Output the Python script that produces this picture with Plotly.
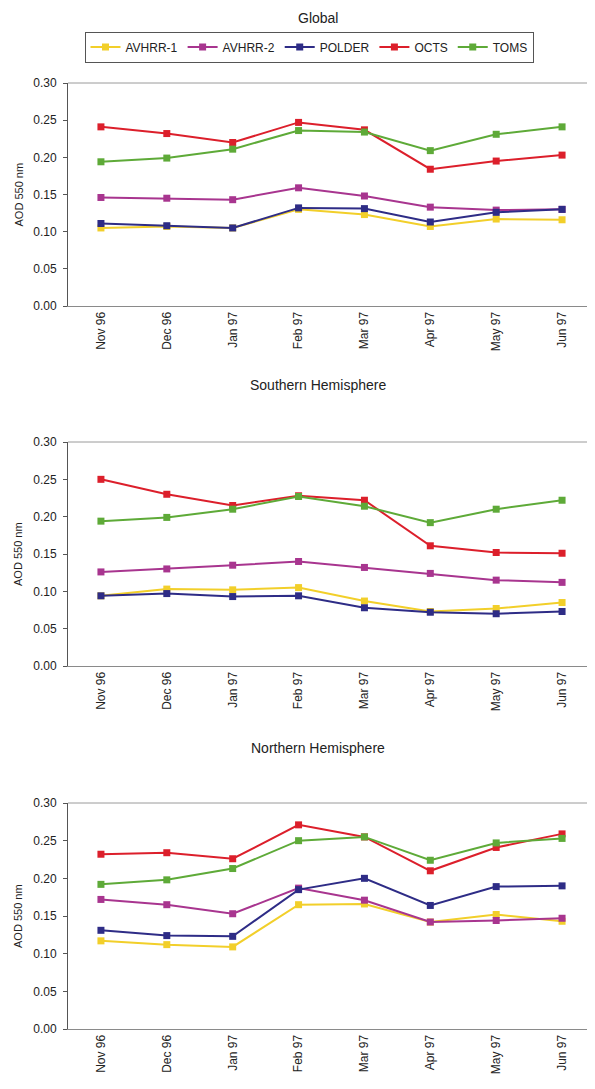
import plotly.graph_objects as go

months = ["Nov 96", "Dec 96", "Jan 97", "Feb 97", "Mar 97", "Apr 97", "May 97", "Jun 97"]
series_names = ["AVHRR-1", "AVHRR-2", "POLDER", "OCTS", "TOMS"]
colors = ["#F2CF2A", "#A8358F", "#2E2C86", "#DC1F2B", "#5EAA38"]

global_avhrr1 = [0.105, 0.107, 0.105, 0.130, 0.123, 0.107, 0.117, 0.116]
global_avhrr2 = [0.146, 0.145, 0.143, 0.159, 0.148, 0.133, 0.129, 0.130]
global_polder = [0.111, 0.108, 0.105, 0.132, 0.131, 0.113, 0.126, 0.130]
global_octs = [0.241, 0.232, 0.220, 0.247, 0.237, 0.184, 0.195, 0.203]
global_toms = [0.194, 0.199, 0.211, 0.236, 0.234, 0.209, 0.231, 0.241]

south_avhrr1 = [0.094, 0.103, 0.102, 0.105, 0.087, 0.073, 0.077, 0.085]
south_avhrr2 = [0.126, 0.130, 0.135, 0.140, 0.132, 0.124, 0.115, 0.112]
south_polder = [0.094, 0.097, 0.093, 0.094, 0.078, 0.072, 0.070, 0.073]
south_octs = [0.250, 0.230, 0.215, 0.228, 0.222, 0.161, 0.152, 0.151]
south_toms = [0.194, 0.199, 0.210, 0.227, 0.214, 0.192, 0.210, 0.222]

north_avhrr1 = [0.117, 0.112, 0.109, 0.165, 0.166, 0.142, 0.152, 0.143]
north_avhrr2 = [0.172, 0.165, 0.153, 0.187, 0.171, 0.142, 0.144, 0.147]
north_polder = [0.131, 0.124, 0.123, 0.185, 0.200, 0.164, 0.189, 0.190]
north_octs = [0.232, 0.234, 0.226, 0.271, 0.255, 0.210, 0.241, 0.259]
north_toms = [0.192, 0.198, 0.213, 0.250, 0.255, 0.224, 0.247, 0.253]

panels = [
    ("Global", [global_avhrr1, global_avhrr2, global_polder, global_octs, global_toms]),
    ("Southern Hemisphere", [south_avhrr1, south_avhrr2, south_polder, south_octs, south_toms]),
    ("Northern Hemisphere", [north_avhrr1, north_avhrr2, north_polder, north_octs, north_toms]),
]

y_ticks = [0.0, 0.05, 0.10, 0.15, 0.20, 0.25, 0.30]

# page has an 8px body margin, so the figure is offset by 8px
OFF = 8
W, H = 595 - OFF, 1089 - OFF
# page-pixel top/bottom of each plot area
pix = [(83, 306), (442, 666), (803, 1029)]
title_pix = [18, 385, 748]
x_left = 68


def px_x(p):
    return (p - OFF) / W


def px_y(p):
    return 1 - (p - OFF) / H


fig = go.Figure()
font_family = "Liberation Sans, Arial, sans-serif"

layout = dict(
    width=W, height=H,
    margin=dict(l=0, r=0, t=0, b=0),
    paper_bgcolor="white", plot_bgcolor="white",
    font=dict(family=font_family, color="#222222", size=11),
    showlegend=True,
    legend=dict(
        orientation="h", x=px_x(309), xanchor="center", y=px_y(47), yanchor="middle",
        bordercolor="#555555", borderwidth=1, bgcolor="white",
        font=dict(size=12, color="#222222"), itemwidth=30,
        tracegroupgap=0,
    ),
)
annotations = []
shapes = []

for i, (title, data) in enumerate(panels):
    n = i + 1
    xa = "x" if n == 1 else f"x{n}"
    ya = "y" if n == 1 else f"y{n}"
    top, bot = pix[i]
    dom = [px_y(bot), px_y(top)]
    for k, vals in enumerate(data):
        fig.add_trace(go.Scatter(
            x=months, y=vals, mode="lines+markers", name=series_names[k],
            line=dict(color=colors[k], width=2),
            marker=dict(symbol="square", size=7, color=colors[k]),
            xaxis=xa, yaxis=ya, showlegend=(i == 0),
        ))
    layout[f"xaxis{'' if n == 1 else n}"] = dict(
        domain=[px_x(x_left), 1], anchor=ya, type="category",
        categoryorder="array", categoryarray=months,
        range=[-0.5, 7.5], showline=True, linecolor="#8a8a8a", linewidth=1,
        ticks="", tickangle=-90, showgrid=False, zeroline=False,
        tickfont=dict(size=12, color="#222222"), automargin=False,
    )
    layout[f"yaxis{'' if n == 1 else n}"] = dict(
        domain=dom, anchor=xa, range=[0, 0.30], tickvals=y_ticks,
        tickformat=".2f", showline=True, linecolor="#555555", linewidth=1,
        ticks="outside", ticklen=4, tickcolor="#555555", showgrid=False,
        zeroline=False, tickfont=dict(size=12, color="#222222"), automargin=False,
        ticklabelstandoff=4,
    )
    shapes.append(dict(type="line", xref=f"{xa} domain", yref=f"{ya} domain",
                       x0=0, x1=1, y0=1, y1=1, line=dict(color="#9a9a9a", width=1)))
    annotations.append(dict(text=title, x=px_x(318), xref="paper", y=px_y(title_pix[i]),
                            yref="paper", showarrow=False, xanchor="center", yanchor="middle",
                            font=dict(size=14, color="#222222")))
    annotations.append(dict(text="AOD 550 nm", x=px_x(18), xref="paper",
                            y=px_y((top + bot) / 2), yref="paper", showarrow=False,
                            textangle=-90, xanchor="center", yanchor="middle",
                            font=dict(size=11, color="#222222")))

layout["annotations"] = annotations
layout["shapes"] = shapes
fig.update_layout(**layout)
fig.write_html("out.html")
